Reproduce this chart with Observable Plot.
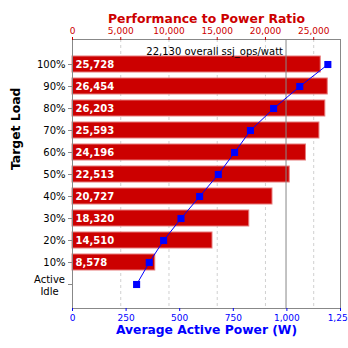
<!DOCTYPE html>
<html>
<head>
<meta charset="utf-8">
<script src="https://cdn.jsdelivr.net/npm/d3@7"></script>
<script src="https://cdn.jsdelivr.net/npm/@observablehq/plot@0.6"></script>
<style>
  html, body { margin: 0; padding: 0; background: #fff; }
  svg { display: block; }
</style>
</head>
<body>
<div id="chart"></div>
<script>
// Data
const loads = ["100%", "90%", "80%", "70%", "60%", "50%", "40%", "30%", "20%", "10%", "Active Idle"];
const perfRatio = [25728, 26454, 26203, 25593, 24196, 22513, 20727, 18320, 14510, 8578, null];
const avgPower = [1191, 1060, 938, 830, 756, 680, 593, 506, 425, 358, 299];
const overall = 22130;
const perfTicks = [0, 5000, 10000, 15000, 20000, 25000];
const powerTicks = [0, 250, 500, 750, 1000, 1250];

const perfMax = 27777;
const powerMax = 1250;
const K = powerMax / perfMax; // maps ratio values onto the power scale

const data = loads.map((load, i) => ({load, perf: perfRatio[i], power: avgPower[i]}));
const bars = data.filter(d => d.perf != null);

const red = "#cc0000";
const blue = "#0000ff";
const fmt = d3.format(",");

const chart = Plot.plot({
  width: 348,
  height: 348,
  marginTop: 39,
  marginBottom: 40,
  marginLeft: 72,
  marginRight: 8,
  style: {fontFamily: "DejaVu Sans", background: "#fff"},
  x: {domain: [0, powerMax]},
  y: {type: "band", domain: loads, insetTop: 11.5, insetBottom: 10.8, paddingInner: 0.29, paddingOuter: 0.145, align: 0.5},
  marks: [
    Plot.gridX(perfTicks.slice(1).map(v => v * K), {stroke: "#d0d0d0", strokeOpacity: 1, strokeDasharray: "3,3"}),
    Plot.barX(bars, {y: "load", x: d => d.perf * K, fill: red, stroke: "#e67a7a", strokeWidth: 1}),
    Plot.text(bars, {y: "load", x: 0, text: d => fmt(d.perf), textAnchor: "start", dx: 3, fill: "white", fontWeight: "bold", fontSize: 10}),
    Plot.ruleX([overall * K], {stroke: "#888"}),
    Plot.text([`${fmt(overall)} overall ssj_ops/watt`], {x: overall * K, frameAnchor: "top", dy: 8, dx: -3, textAnchor: "end", fill: "black", fontSize: 10}),
    Plot.line(data, {x: "power", y: "load", stroke: blue, strokeWidth: 1}),
    Plot.dot(data, {x: "power", y: "load", symbol: "square", r: 4, fill: blue, stroke: "none"}),
    Plot.frame({stroke: "#888"}),
    Plot.axisX({anchor: "top", ticks: perfTicks.map(v => v * K), tickFormat: v => fmt(Math.round(v / K)), color: red, tickSize: 3, tickPadding: 3, fontSize: 9, label: null}),
    Plot.axisX({anchor: "bottom", ticks: powerTicks, tickFormat: fmt, color: blue, tickSize: 3, tickPadding: 3, fontSize: 9, label: null}),
    Plot.axisY({ticks: loads, tickFormat: d => d === "Active Idle" ? "" : d, tickSize: 4, stroke: "#888", fill: "black", tickPadding: 3, fontSize: 10, label: null}),
    Plot.text(["Active\nIdle"], {y: ["Active Idle"], frameAnchor: "left", dx: -23, dy: 1, textAnchor: "middle", fill: "black", fontSize: 10, lineHeight: 1.2}),
    Plot.text(["Performance to Power Ratio"], {frameAnchor: "top", dy: -25, fill: red, fontWeight: "bold", fontSize: 12.4}),
    Plot.text(["Average Active Power (W)"], {frameAnchor: "bottom", dy: 25, fill: blue, fontWeight: "bold", fontSize: 12.3}),
    Plot.text(["Target Load"], {frameAnchor: "left", dx: -56, dy: -4, rotate: -90, fill: "black", fontWeight: "bold", fontSize: 12.4})
  ]
});
document.getElementById("chart").appendChild(chart);
</script>
</body>
</html>
